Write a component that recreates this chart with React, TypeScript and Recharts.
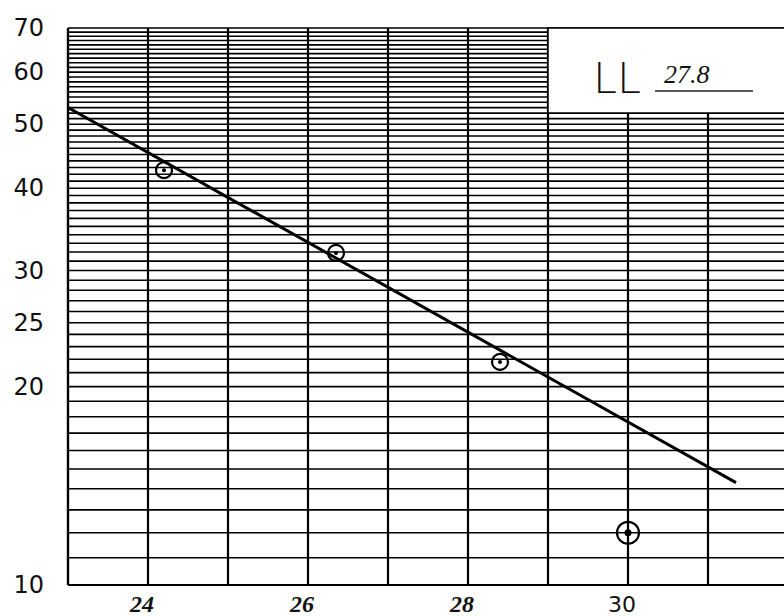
// Liquid limit flow curve: blows (log scale) vs water content, on a dense
// semi-log grid like the printed lab sheet. Fit line, trial points, LL box.

import React from 'react';
import {
  ComposedChart,
  CartesianGrid,
  XAxis,
  YAxis,
  Line,
  Scatter,
  ReferenceArea,
} from 'recharts';

// water content (%) axis
const waterTicks = [23, 24, 25, 26, 27, 28, 29, 30, 31, 32];
const waterLabels = [24, 26, 28, 30];

// number of blows axis (log); a grid line at every whole blow count
const blowLabels = [10, 20, 25, 30, 40, 50, 60, 70];
const blowGrid: number[] = [];
for (let b = 10; b <= 70; b++) blowGrid.push(b);

// trial points
const trialWater = [24.2, 26.35, 28.4];
const trialBlows = [42.6, 31.9, 21.8];
const outlierWater = [30.0];
const outlierBlows = [12.0];

// hand-drawn flow line end points
const flowWater = [23.0, 31.35];
const flowBlows = [53.0, 14.3];

const liquidLimit = '27.8';

const trials = trialWater.map((w, i) => ({ w, n: trialBlows[i] }));
const outliers = outlierWater.map((w, i) => ({ w, n: outlierBlows[i] }));
const flow = flowWater.map((w, i) => ({ w, n: flowBlows[i] }));

const YTick = (props: any) => {
  const { y, payload } = props;
  if (!blowLabels.includes(payload.value)) return null;
  return (
    <text
      x={44}
      y={y}
      dy={8}
      textAnchor="end"
      fontFamily="'DejaVu Sans', sans-serif"
      fontSize={24}
      fill="#111"
    >
      {payload.value}
    </text>
  );
};

const XTick = (props: any) => {
  const { x, payload } = props;
  if (!waterLabels.includes(payload.value)) return null;
  const upright = payload.value === 30;
  return (
    <text
      x={x - 6}
      y={612}
      textAnchor="middle"
      fontFamily={upright ? "'DejaVu Sans', sans-serif" : "'Liberation Serif', serif"}
      fontStyle={upright ? 'normal' : 'italic'}
      fontWeight={upright ? 400 : 700}
      fontSize={upright ? 22 : 24}
      fill="#111"
    >
      {payload.value}
    </text>
  );
};

const TrialMark = (props: any) => {
  const { cx, cy } = props;
  return (
    <g>
      <circle cx={cx} cy={cy} r={8} fill="none" stroke="#000" strokeWidth={2.2} />
      <circle cx={cx} cy={cy} r={2} fill="#000" />
    </g>
  );
};

const OutlierMark = (props: any) => {
  const { cx, cy } = props;
  return (
    <g>
      <circle cx={cx} cy={cy} r={11} fill="none" stroke="#000" strokeWidth={2.2} />
      <circle cx={cx} cy={cy} r={3.5} fill="#000" />
    </g>
  );
};

const LLBox = (props: any) => {
  const { x, y } = props.viewBox;
  return (
    <g>
      <text
        x={x + 45}
        y={y + 65}
        fontFamily="'DejaVu Sans', sans-serif"
        fontWeight={200}
        fontSize={43}
        fill="#111"
      >
        LL
      </text>
      <text
        x={x + 116}
        y={y + 55}
        fontFamily="'Liberation Serif', serif"
        fontStyle="italic"
        fontSize={26}
        fill="#111"
      >
        {liquidLimit}
      </text>
      <line x1={x + 107} x2={x + 205} y1={y + 63} y2={y + 63} stroke="#222" strokeWidth={1.5} />
    </g>
  );
};

function App() {
  return (
    <div
      style={{
        position: 'absolute',
        left: 0,
        top: 0,
        width: 784,
        height: 616,
        overflow: 'hidden',
        background: '#fff',
      }}
    >
      <ComposedChart
        width={800}
        height={616}
        margin={{ top: 28, right: 12, bottom: 0, left: 0 }}
      >
        <CartesianGrid stroke="#000" strokeWidth={1.6} vertical={false} />
        <CartesianGrid stroke="#000" strokeWidth={2.2} horizontal={false} />
        <XAxis
          dataKey="w"
          type="number"
          domain={[23, 32]}
          ticks={waterTicks}
          interval={0}
          height={31}
          tickLine={false}
          axisLine={{ stroke: '#000', strokeWidth: 2.2 }}
          tick={<XTick />}
          allowDataOverflow
        />
        <YAxis
          dataKey="n"
          type="number"
          scale="log"
          domain={[10, 70]}
          ticks={blowGrid}
          interval={0}
          width={68}
          tickLine={false}
          axisLine={{ stroke: '#000', strokeWidth: 2.2 }}
          tick={<YTick />}
          allowDataOverflow
        />
        <ReferenceArea
          x1={29}
          x2={32}
          y1={52}
          y2={70}
          fill="#fff"
          fillOpacity={1}
          stroke="#000"
          strokeWidth={1.5}
          label={<LLBox />}
        />
        <Line
          data={flow}
          dataKey="n"
          stroke="#000"
          strokeWidth={3}
          dot={false}
          isAnimationActive={false}
        />
        <Scatter data={trials} dataKey="n" shape={<TrialMark />} isAnimationActive={false} />
        <Scatter data={outliers} dataKey="n" shape={<OutlierMark />} isAnimationActive={false} />
      </ComposedChart>
    </div>
  );
}

export default App;
